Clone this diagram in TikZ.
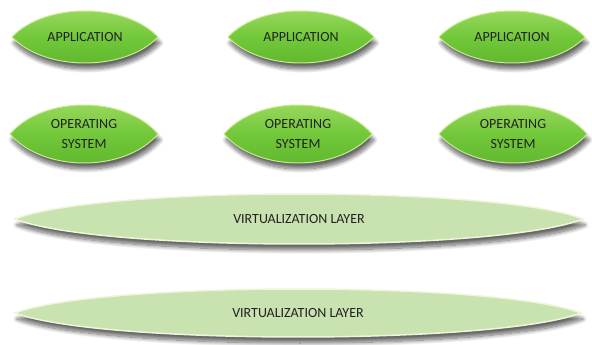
\documentclass[tikz,border=0pt]{standalone}
\usepackage{fontspec}
\setmainfont{Carlito}
\usetikzlibrary{shadows.blur}
\definecolor{appTop}{HTML}{A3DC66}
\definecolor{appMid}{HTML}{72C83A}
\definecolor{appBot}{HTML}{5CB42A}
\definecolor{appEdge}{HTML}{C6EA8E}
\definecolor{layerFill}{HTML}{C8E2B0}
\definecolor{layerEdge}{HTML}{EEF6DA}
\definecolor{labelInk}{HTML}{222222}
\tikzset{
  lenshadow/.style={blur shadow={shadow xshift=2pt, shadow yshift=-6pt,
      shadow blur steps=12, shadow blur radius=4pt, shadow opacity=60}},
  greenlens/.style={lenshadow, draw=appEdge, line width=1pt,
      top color=appTop, bottom color=appBot, middle color=appMid},
  paleLens/.style={lenshadow, draw=layerEdge, line width=1.5pt, fill=layerFill},
  lbl/.style={text=labelInk, font=\fontsize{14}{20}\selectfont, align=center, inner sep=0pt}
}
% lens with pointed ends: centre (#1,#2), half width #3, half height #4,
% control offset #5 (fraction of half width), style #6
\newcommand{\lensshape}[6]{%
  \path[#6] (#1-#3,#2)
    .. controls (#1-#3+#5*#3,#2-1.333*#4) and (#1+#3-#5*#3,#2-1.333*#4) .. (#1+#3,#2)
    .. controls (#1+#3-#5*#3,#2+1.333*#4) and (#1-#3+#5*#3,#2+1.333*#4) .. cycle;}
\begin{document}
\begin{tikzpicture}[x=1pt,y=-1pt]
\useasboundingbox (0,0) rectangle (592,345);
% application row
\lensshape{85}{37}{73}{26}{0.45}{greenlens}
\lensshape{301}{37}{73}{26}{0.45}{greenlens}
\lensshape{512}{37}{73}{26}{0.45}{greenlens}
\node[lbl] (app1) at (85,37) {APPLICATION};
\node[lbl] (app2) at (301,37) {APPLICATION};
\node[lbl] (app3) at (512,37) {APPLICATION};
% operating system row
\lensshape{84}{134}{74}{29}{0.45}{greenlens}
\lensshape{298}{134}{74}{29}{0.45}{greenlens}
\lensshape{513}{134}{74}{29}{0.45}{greenlens}
\node[lbl] (os1) at (84,134) {OPERATING\\SYSTEM};
\node[lbl] (os2) at (298,134) {OPERATING\\SYSTEM};
\node[lbl] (os3) at (513,134) {OPERATING\\SYSTEM};
% virtualization layers
\lensshape{299}{219}{284}{25}{0.3}{paleLens}
\lensshape{298}{313}{283}{24}{0.3}{paleLens}
\node[lbl] (virt1) at (299,219) {VIRTUALIZATION LAYER};
\node[lbl] (virt2) at (298,313) {VIRTUALIZATION LAYER};
\end{tikzpicture}
\end{document}
